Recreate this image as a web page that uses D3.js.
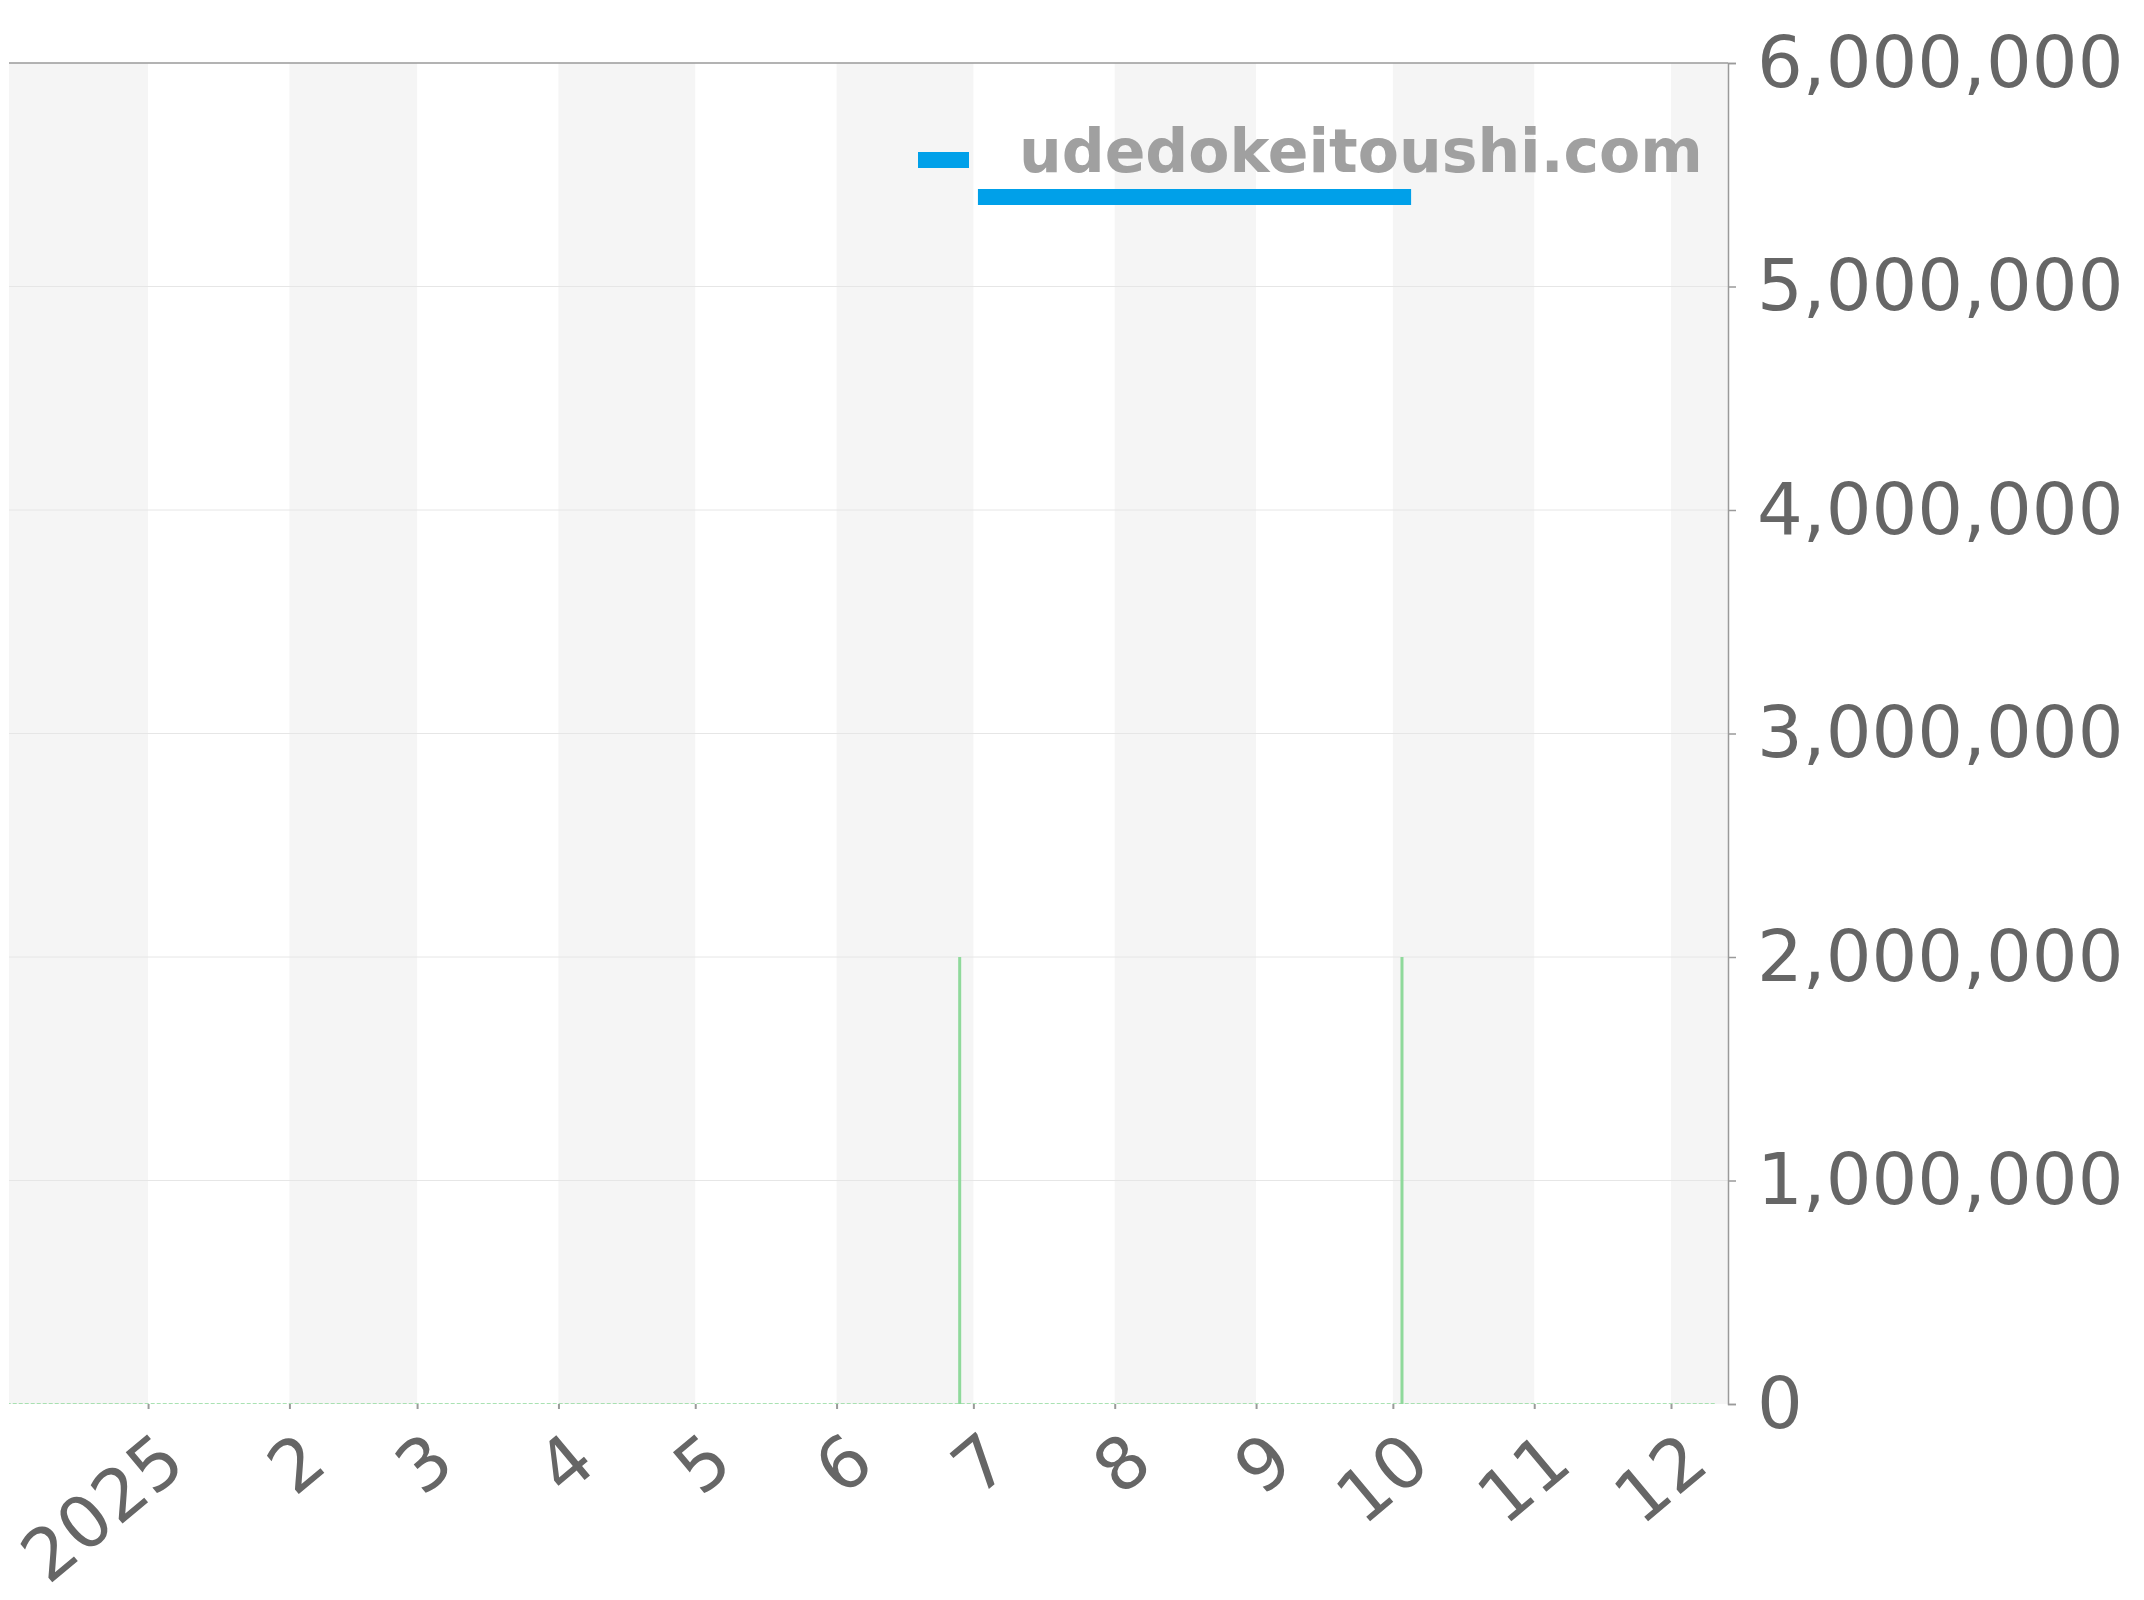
<!DOCTYPE html>
<html>
<head>
<meta charset="utf-8">
<script src="https://cdn.jsdelivr.net/npm/d3@7"></script>
<style>
  body { margin: 0; background: #fff; }
  svg { display: block; }
  text { font-family: "DejaVu Sans", sans-serif; }
</style>
</head>
<body>
<svg id="chart" width="2144" height="1600"></svg>
<script>
// price line (blue) and volume spikes (green)
const priceDates = ['2025-07-02', '2025-10-05'];
const priceValues = [5400000, 5400000];
const volumeDates = ['2024-12-01', '2025-06-28', '2025-10-03', '2025-12-11'];
const volumeValues = [0, 2000000, 2000000, 0];
const yTickValues = [0, 1000000, 2000000, 3000000, 4000000, 5000000, 6000000];
const monthTickLabels = ['2025', '2', '3', '4', '5', '6', '7', '8', '9', '10', '11', '12'];
const legendLabel = 'udedokeitoushi.com';

const parseDay = d3.timeParse('%Y-%m-%d');
const GRID = '#e6e6e6';
const AXIS = '#9a9a9a';
const TEXT = '#666666';
const BLUE = '#00a0e9';
const GREEN = '#8fd99b';

const plot = { left: 9, right: 1728, top: 63, bottom: 1404 };

const svg = d3.select('#chart');

const x = d3.scaleTime()
    .domain([new Date(2024, 11, 1, 12), new Date(2025, 11, 13, 12)])
    .range([plot.left, plot.right]);

const y = d3.scaleLinear()
    .domain([0, 6000000])
    .range([plot.bottom, plot.top]);

svg.append('clipPath')
    .attr('id', 'plot-clip')
    .append('rect')
    .attr('x', plot.left)
    .attr('y', plot.top)
    .attr('width', plot.right - plot.left)
    .attr('height', plot.bottom - plot.top);

const body = svg.append('g').attr('clip-path', 'url(#plot-clip)');

// alternating month bands
const months = d3.timeMonth.range(new Date(2024, 11, 1), new Date(2026, 0, 1));
body.append('g')
    .selectAll('rect')
    .data(months.filter((m, i) => i % 2 === 0))
    .join('rect')
    .attr('x', d => x(d))
    .attr('y', plot.top)
    .attr('width', d => x(d3.timeMonth.offset(d, 1)) - x(d))
    .attr('height', plot.bottom - plot.top)
    .attr('fill', '#f5f5f5');

// horizontal grid
body.append('g')
    .selectAll('line')
    .data(yTickValues.filter(v => v > 0 && v < 6000000))
    .join('line')
    .attr('x1', plot.left)
    .attr('x2', plot.right)
    .attr('y1', d => y(d))
    .attr('y2', d => y(d))
    .attr('stroke', GRID)
    .attr('stroke-width', 1);

// volume: dashed baseline + spikes
const volume = volumeDates.map((d, i) => ({ date: parseDay(d), value: volumeValues[i] }));

body.append('line')
    .attr('x1', x(volume[0].date))
    .attr('x2', x(volume[volume.length - 1].date))
    .attr('y1', y(0))
    .attr('y2', y(0))
    .attr('stroke', GREEN)
    .attr('stroke-width', 1.5)
    .attr('stroke-dasharray', '4,2');

body.append('g')
    .selectAll('rect')
    .data(volume.filter(d => d.value > 0))
    .join('rect')
    .attr('x', d => x(d.date) - 1.5)
    .attr('y', d => y(d.value))
    .attr('width', 3)
    .attr('height', d => y(0) - y(d.value))
    .attr('fill', GREEN);

// price line
const price = priceDates.map((d, i) => ({ date: parseDay(d), value: priceValues[i] }));
body.append('path')
    .datum(price)
    .attr('fill', 'none')
    .attr('stroke', BLUE)
    .attr('stroke-width', 16)
    .attr('d', d3.line().x(d => x(d.date)).y(d => y(d.value)));

// legend
const legend = svg.append('g');
legend.append('rect')
    .attr('x', 918)
    .attr('y', 152)
    .attr('width', 51)
    .attr('height', 16)
    .attr('fill', BLUE);
legend.append('text')
    .attr('x', 1019)
    .attr('y', 172)
    .attr('font-size', 60)
    .attr('font-weight', 'bold')
    .attr('fill', '#a0a0a0')
    .text(legendLabel);

// top border
svg.append('line')
    .attr('x1', plot.left)
    .attr('x2', plot.right)
    .attr('y1', plot.top)
    .attr('y2', plot.top)
    .attr('stroke', AXIS)
    .attr('stroke-width', 1.5);

// right value axis
const yAxis = svg.append('g')
    .attr('transform', `translate(${plot.right},0)`)
    .call(d3.axisRight(y).tickValues(yTickValues).tickSize(8).tickPadding(21).tickFormat(d3.format(',')));
yAxis.select('.domain').attr('stroke', AXIS).attr('stroke-width', 1.5);
yAxis.selectAll('.tick line').attr('stroke', AXIS).attr('stroke-width', 1.5);
yAxis.selectAll('.tick text')
    .attr('fill', TEXT)
    .attr('font-size', 72)
    .attr('font-family', '"DejaVu Sans", sans-serif');

// month axis along the bottom
const monthTicks = d3.timeMonth.range(new Date(2025, 0, 1), new Date(2025, 11, 2));
const xAxis = svg.append('g')
    .attr('transform', `translate(0,${plot.bottom})`)
    .call(d3.axisBottom(x).tickValues(monthTicks).tickSize(5).tickFormat((d, i) => monthTickLabels[i]));
xAxis.select('.domain').remove();
xAxis.selectAll('.tick line').attr('stroke', AXIS).attr('stroke-width', 2);
xAxis.selectAll('.tick text')
    .attr('fill', TEXT)
    .attr('font-size', 72)
    .attr('font-family', '"DejaVu Sans", sans-serif')
    .attr('text-anchor', 'end')
    .attr('dy', null)
    .attr('y', null)
    .attr('transform', 'translate(40,64) rotate(-40)');
</script>
</body>
</html>
